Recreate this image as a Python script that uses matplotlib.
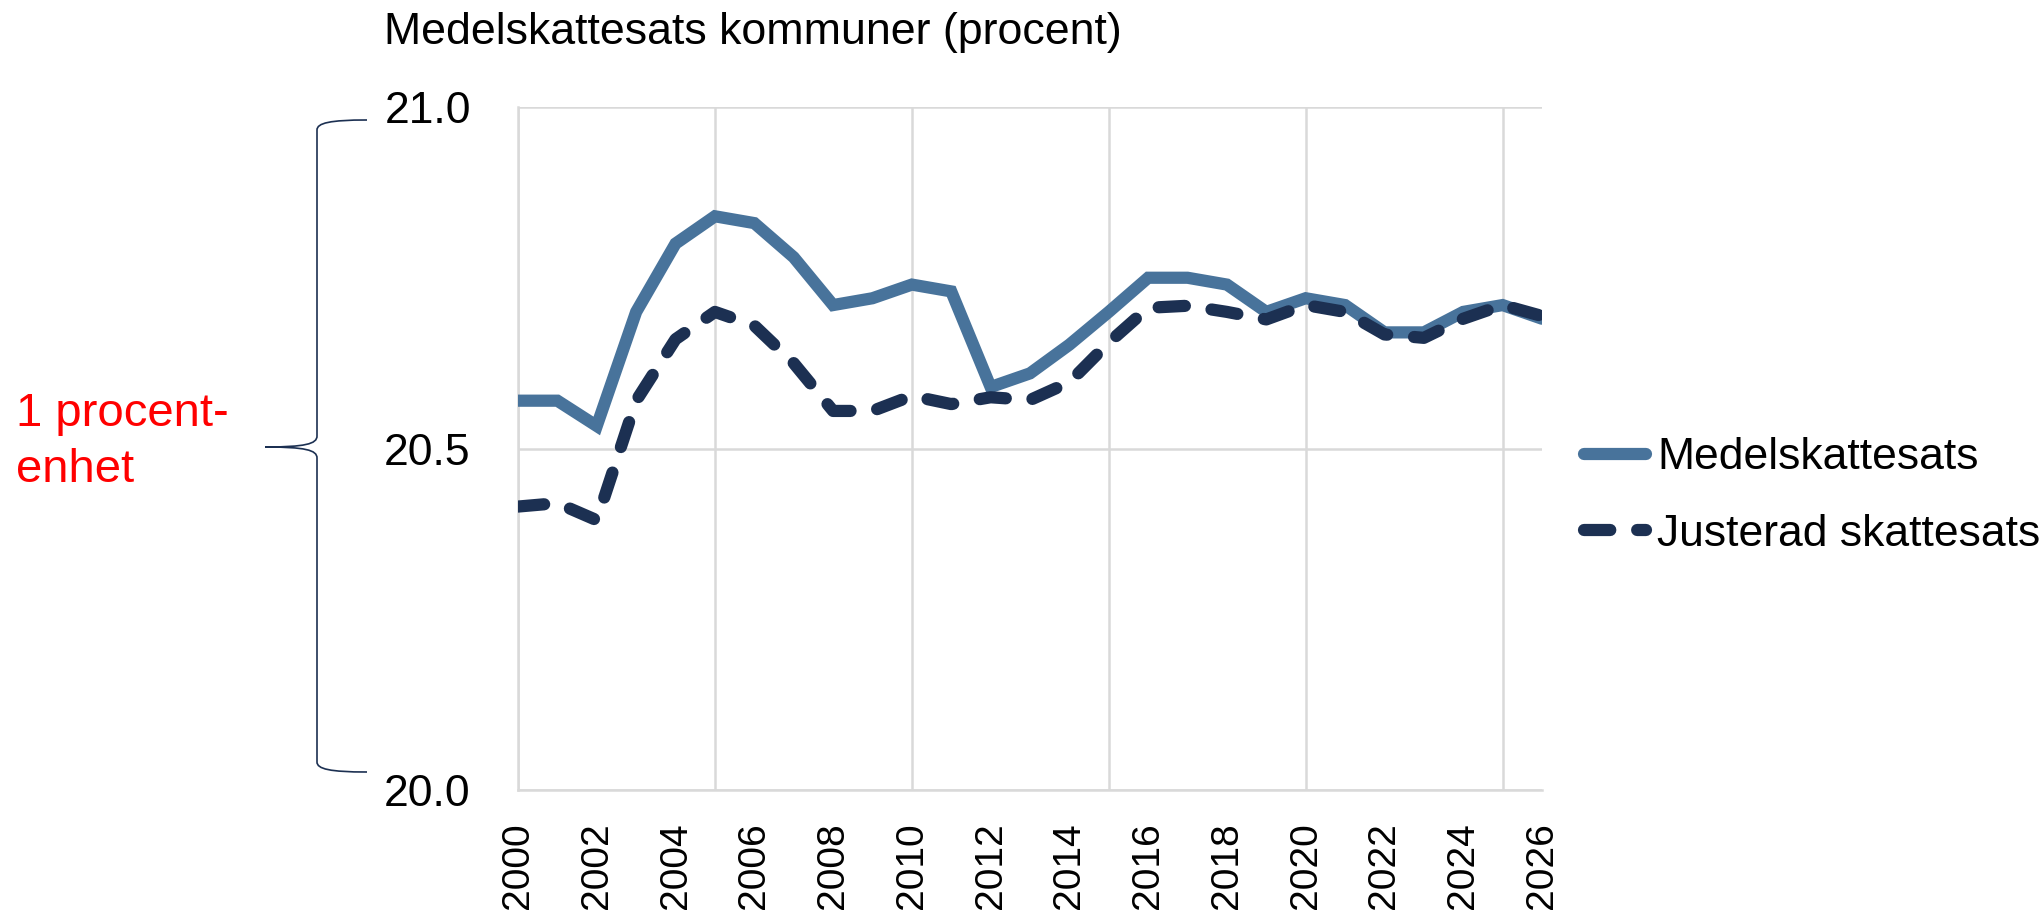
import numpy as np
import matplotlib.pyplot as plt
from matplotlib.path import Path
from matplotlib.patches import PathPatch

plt.rcParams['font.family'] = ['Liberation Sans', 'DejaVu Sans']

# Data
years = list(range(2000, 2027))
medelskattesats = [20.57, 20.57, 20.533, 20.70, 20.80, 20.84, 20.83, 20.78, 20.71, 20.72,
                   20.74, 20.73, 20.59, 20.61, 20.652, 20.70, 20.75, 20.75, 20.74, 20.70,
                   20.72, 20.71, 20.67, 20.67, 20.70, 20.71, 20.69]
justerad = [20.415, 20.42, 20.395, 20.57, 20.66, 20.70, 20.68, 20.625, 20.555, 20.555,
            20.577, 20.565, 20.575, 20.571, 20.597, 20.655, 20.706, 20.709, 20.70, 20.689,
            20.71, 20.70, 20.667, 20.662, 20.69, 20.71, 20.694]
y_ticks = [20.0, 20.5, 21.0]
x_labels = years[::2]
grid_years = years[::5]

title = 'Medelskattesats kommuner (procent)'
brace_lines = ['1 procent-', 'enhet']

W, H = 2044, 913
fig = plt.figure(figsize=(W / 100, H / 100), dpi=100)

# plot area in pixels: left 518, right 1542, top 107, bottom 790
ax = fig.add_axes([518 / W, 1 - 790 / H, (1542 - 518) / W, (790 - 107) / H])

grid_col = '#d9d9d9'
ax.plot(years, medelskattesats, color='#48739b', lw=8.8, solid_joinstyle='miter',
        solid_capstyle='round', label='Medelskattesats', zorder=3)
ax.plot(years, justerad, color='#1c3052', lw=8.8, dashes=(2.15, 2.2),
        dash_capstyle='round', label='Justerad skattesats', zorder=4)

ax.set_xlim(2000, 2026)
ax.set_ylim(20.0, 21.0)
ax.set_yticks(y_ticks)
ax.set_yticklabels([f'{v:.1f}' for v in y_ticks])
ax.set_xticks(x_labels)
ax.set_xticklabels([str(y) for y in x_labels], rotation=90)
ax.set_xticks(grid_years, minor=True)
ax.xaxis.remove_overlapping_locs = False

ax.grid(axis='y', which='major', color=grid_col, lw=1.8)
ax.grid(axis='x', which='minor', color=grid_col, lw=1.8)
ax.grid(axis='x', which='major', visible=False)
ax.tick_params(axis='both', which='both', length=0, colors='black')
ax.tick_params(axis='y', labelsize=32, pad=34)
ax.tick_params(axis='x', labelsize=28, pad=23)
for s in ['top', 'right']:
    ax.spines[s].set_visible(False)
for s in ['left', 'bottom']:
    ax.spines[s].set_color(grid_col)
    ax.spines[s].set_linewidth(1.8)

leg = ax.legend(loc='center left', bbox_to_anchor=(1584 / W, 1 - 496 / H),
                bbox_transform=fig.transFigure, frameon=False, fontsize=32,
                handlelength=1.4, handletextpad=0.25, labelspacing=0.8,
                borderpad=0, borderaxespad=0)

# title, sized to the reference width
t = fig.text(384 / W, 1 - 44 / H, title, fontsize=32, ha='left', va='baseline')
fig.canvas.draw()
tw = t.get_window_extent(fig.canvas.get_renderer()).width
t.set_fontsize(32 * 740 / tw)

# overlay in pixel coordinates for brace and label
ov = fig.add_axes([0, 0, 1, 1], zorder=-1)
ov.set_xlim(0, W)
ov.set_ylim(H, 0)
ov.axis('off')

xe, xv, xt = 367, 317, 265
yt, ym, yb = 120, 447, 772
verts = [(xe, yt), (330, yt), (xv, yt + 3), (xv, yt + 10),
         (xv, ym - 11),
         (xv, ym - 3), (305, ym), (xt, ym),
         (305, ym), (xv, ym + 3), (xv, ym + 11),
         (xv, yb - 10),
         (xv, yb - 3), (330, yb), (xe, yb)]
codes = [Path.MOVETO, Path.CURVE4, Path.CURVE4, Path.CURVE4,
         Path.LINETO,
         Path.CURVE4, Path.CURVE4, Path.CURVE4,
         Path.CURVE4, Path.CURVE4, Path.CURVE4,
         Path.LINETO,
         Path.CURVE4, Path.CURVE4, Path.CURVE4]
ov.add_patch(PathPatch(Path(verts, codes), fill=False, edgecolor='#1c3052', lw=1.2))

ov.text(16, 426, brace_lines[0], color='#ff0000', fontsize=34, ha='left', va='baseline')
ov.text(16, 482, brace_lines[1], color='#ff0000', fontsize=34, ha='left', va='baseline')

fig.savefig('out.png', dpi=100)
